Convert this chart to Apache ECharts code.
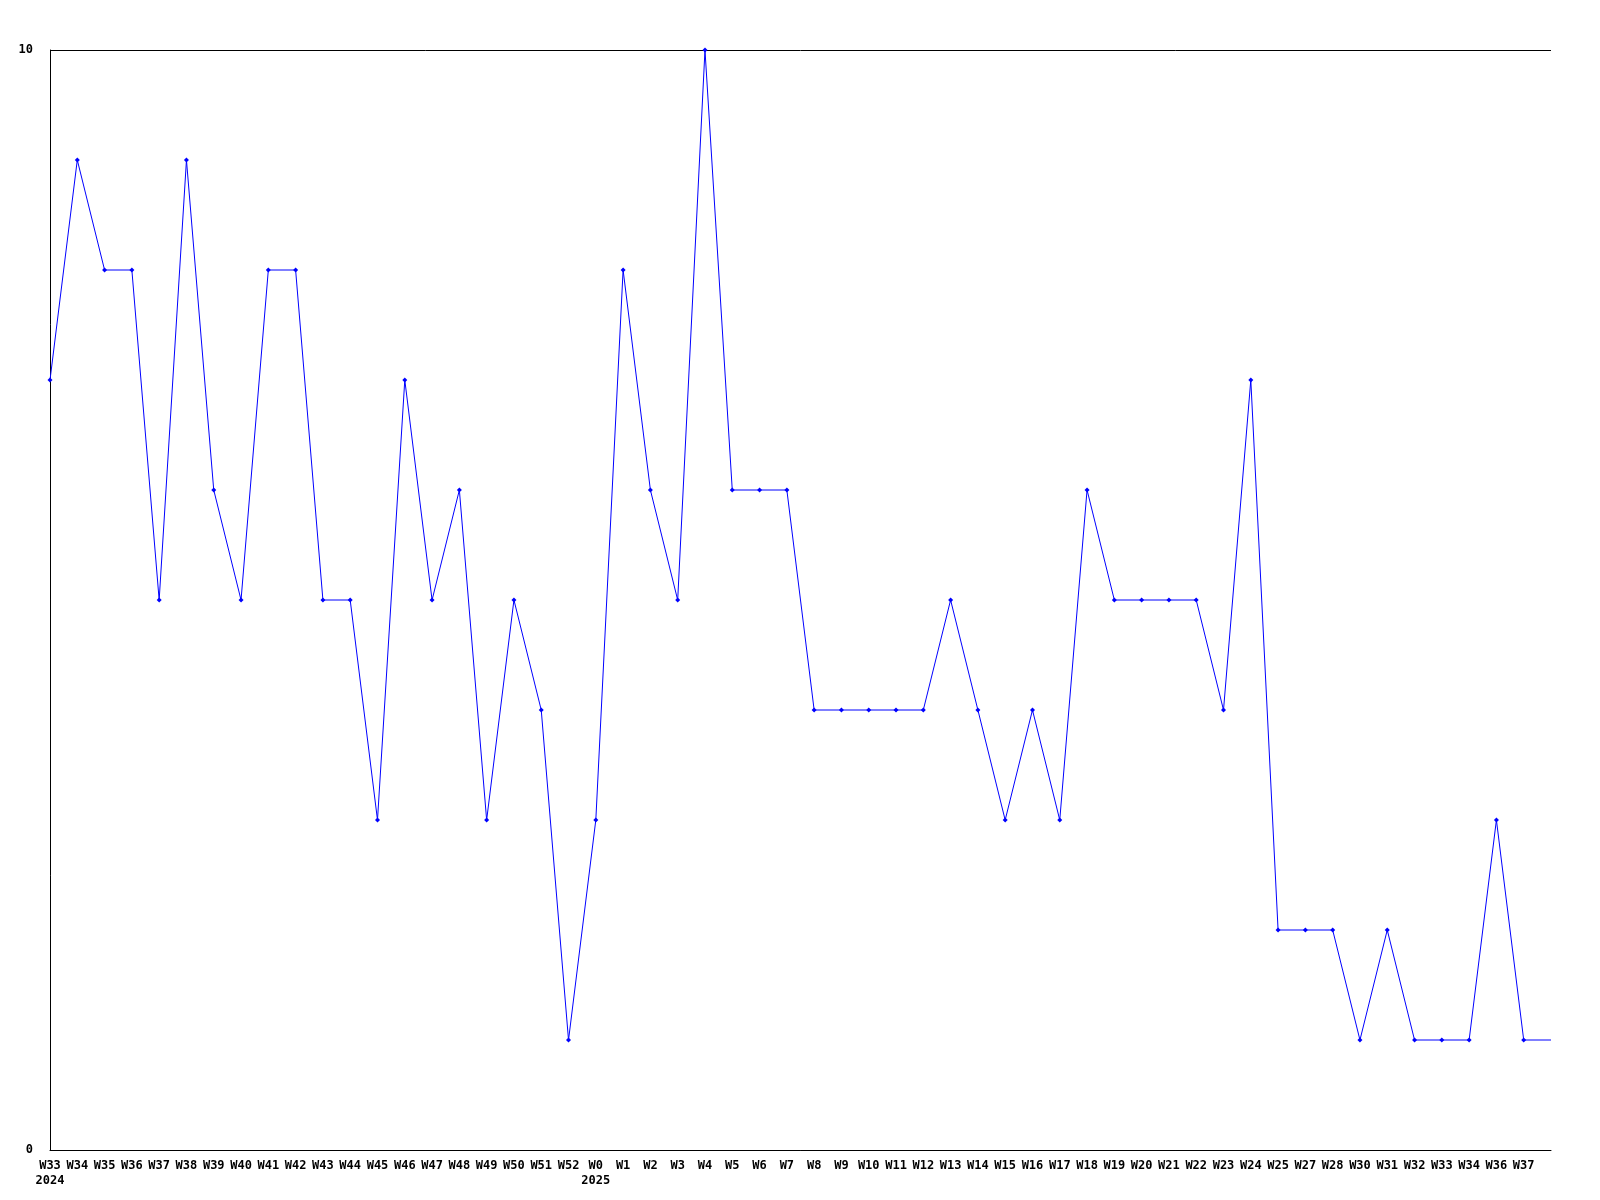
<!DOCTYPE html>
<html>
<head>
<meta charset="utf-8">
<script src="https://cdn.jsdelivr.net/npm/echarts@6/dist/echarts.min.js"></script>
<style>html,body{margin:0;padding:0;background:#fff}#c{width:1600px;height:1200px}</style>
</head>
<body>
<div id="c"></div>
<script>
const categories = ['W33\n2024','W34','W35','W36','W37','W38','W39','W40','W41','W42','W43','W44','W45','W46','W47','W48','W49','W50','W51','W52',
  'W0\n2025','W1','W2','W3','W4','W5','W6','W7','W8','W9','W10','W11','W12','W13','W14','W15','W16','W17','W18','W19','W20','W21','W22','W23','W24','W25',
  'W27','W28','W30','W31','W32','W33','W34','W36','W37',''];
const values = [7,9,8,8,5,9,6,5,8,8,5,5,3,7,5,6,3,5,4,1,
  3,8,6,5,10,6,6,6,4,4,4,4,4,5,4,3,4,3,6,5,5,5,5,4,7,2,
  2,2,1,2,1,1,1,3,1,1];
const yTicks = [0, 10];

const data = values.map((v, i) => i === values.length - 1 ? {value: v, symbol: 'none'} : v);

const chart = echarts.init(document.getElementById('c'));
chart.setOption({
  animation: false,
  backgroundColor: '#ffffff',
  grid: {left: 50, right: 49, top: 50, bottom: 50, containLabel: false},
  xAxis: {
    type: 'category',
    data: categories,
    boundaryGap: false,
    axisLine: {lineStyle: {color: '#000', width: 1}},
    axisTick: {show: false},
    axisLabel: {
      interval: 0,
      color: '#000',
      fontFamily: 'DejaVu Sans Mono',
      fontWeight: 'bold',
      fontSize: 12,
      lineHeight: 15,
      margin: 8
    },
    splitLine: {show: false}
  },
  yAxis: {
    type: 'value',
    min: yTicks[0],
    max: yTicks[1],
    interval: 10,
    axisLine: {show: true, lineStyle: {color: '#000', width: 1}},
    axisTick: {show: false},
    axisLabel: {
      color: '#000',
      fontFamily: 'DejaVu Sans Mono',
      fontWeight: 'bold',
      fontSize: 12,
      margin: 17
    },
    splitLine: {show: true, lineStyle: {color: '#000', width: 1}}
  },
  series: [{
    type: 'line',
    data: data,
    symbol: 'diamond',
    symbolSize: 5,
    showAllSymbol: true,
    lineStyle: {color: '#0000ff', width: 1},
    itemStyle: {color: '#0000ff'}
  }]
});
</script>
</body>
</html>
